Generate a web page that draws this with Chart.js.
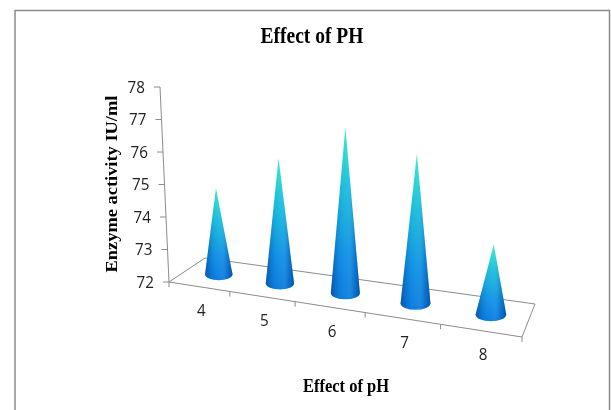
<!DOCTYPE html>
<html>
<head>
<meta charset="utf-8">
<title>Effect of PH</title>
<script src="https://cdn.jsdelivr.net/npm/chart.js@4"></script>
<style>
  html, body { margin: 0; padding: 0; background: #fff; }
  canvas { display: block; }
</style>
</head>
<body>
<canvas id="phChart" width="611" height="410"></canvas>
<script>
'use strict';

const categories = ["4", "5", "6", "7", "8"];
const activity = [74.65, 75.85, 77.1, 76.6, 74.15];
const yMin = 72;
const yMax = 78;
const chartTitle = "Effect of PH";
const xTitle = "Effect of pH";
const yTitle = "Enzyme activity IU/ml";

// corners of the tilted floor: front left, front right, back right, back left
const floorQuad = [[169, 282], [522, 337], [535, 304], [205, 258]];
const wallTop = [160, 87];

// homography from the unit square to the floor
function makeFloor(q) {
  const [x0, y0] = q[0], [x1, y1] = q[1], [x2, y2] = q[2], [x3, y3] = q[3];
  const dx1 = x1 - x2, dx2 = x3 - x2, sx = x0 - x1 + x2 - x3;
  const dy1 = y1 - y2, dy2 = y3 - y2, sy = y0 - y1 + y2 - y3;
  const det = dx1 * dy2 - dx2 * dy1;
  const g = (sx * dy2 - dx2 * sy) / det;
  const h = (dx1 * sy - sx * dy1) / det;
  const a = x1 - x0 + g * x1, b = x3 - x0 + h * x3;
  const d = y1 - y0 + g * y1, e = y3 - y0 + h * y3;
  return (u, v) => {
    const w = g * u + h * v + 1;
    return [(a * u + b * v + x0) / w, (d * u + e * v + y0) / w];
  };
}
const floor = makeFloor(floorQuad);

function line(ctx, x1, y1, x2, y2) {
  ctx.beginPath();
  ctx.moveTo(x1, y1);
  ctx.lineTo(x2, y2);
  ctx.stroke();
}

// the reference text is taller and narrower than the plain font
function stretchedText(ctx, text, x, y, sx, sy, angle) {
  ctx.save();
  ctx.translate(x, y);
  if (angle) ctx.rotate(angle);
  ctx.scale(sx, sy);
  ctx.fillText(text, 0, 0);
  ctx.restore();
}

function drawCone(ctx, cx, baseY, tipX, tipY, r) {
  const ry = r * 0.44;
  ctx.save();
  ctx.beginPath();
  ctx.moveTo(tipX, tipY);
  ctx.lineTo(cx + r, baseY);
  ctx.ellipse(cx, baseY, r, ry, 0, 0, Math.PI);
  ctx.closePath();
  ctx.clip();

  const vert = ctx.createLinearGradient(0, tipY, 0, baseY + ry);
  vert.addColorStop(0, "#35ecc8");
  vert.addColorStop(0.3, "#1cc4dc");
  vert.addColorStop(0.75, "#0f90e6");
  vert.addColorStop(1, "#0b7ce0");
  ctx.fillStyle = vert;
  ctx.fillRect(cx - r - 5, tipY - 2, 2 * r + 10, baseY + ry - tipY + 4);

  const side = ctx.createLinearGradient(cx - r, 0, cx + r, 0);
  side.addColorStop(0, "rgba(6,50,120,0.55)");
  side.addColorStop(0.3, "rgba(10,80,160,0.08)");
  side.addColorStop(0.55, "rgba(255,255,255,0.04)");
  side.addColorStop(0.8, "rgba(8,70,150,0.22)");
  side.addColorStop(1, "rgba(6,50,120,0.6)");
  ctx.fillStyle = side;
  ctx.fillRect(cx - r - 5, tipY - 2, 2 * r + 10, baseY + ry - tipY + 4);
  ctx.restore();
}

const conePlugin = {
  id: "conePlugin",
  beforeDraw(chart) {
    const ctx = chart.ctx;
    ctx.save();
    ctx.fillStyle = "#fff";
    ctx.fillRect(0, 0, chart.width, chart.height);
    // outer frame
    ctx.strokeStyle = "#8a8a8a";
    ctx.lineWidth = 1.5;
    ctx.beginPath();
    ctx.moveTo(15, 410);
    ctx.lineTo(15, 10.5);
    ctx.lineTo(609.5, 10.5);
    ctx.lineTo(609.5, 410);
    ctx.stroke();
    ctx.restore();
  },
  afterDatasetsDraw(chart) {
    const ctx = chart.ctx;
    const xs = chart.scales.x, ys = chart.scales.y;
    const area = chart.chartArea;
    const n = categories.length;
    const [fx] = floorQuad[0];
    const y0 = ys.getPixelForValue(yMin);
    ctx.save();
    ctx.strokeStyle = "#8c8c8c";
    ctx.lineWidth = 1;

    // floor outline
    ctx.beginPath();
    floorQuad.forEach((p, i) => i ? ctx.lineTo(p[0], p[1]) : ctx.moveTo(p[0], p[1]));
    ctx.closePath();
    ctx.stroke();

    // leaning value axis, ticks and labels
    const axisX = v => fx + (wallTop[0] - fx) * (y0 - ys.getPixelForValue(v)) / (area.bottom - area.top);
    line(ctx, fx, y0, wallTop[0], ys.getPixelForValue(yMax));
    ctx.fillStyle = "#222";
    ctx.font = '16px "Open Sans"';
    ctx.textAlign = "right";
    ctx.textBaseline = "middle";
    ys.ticks.forEach(t => {
      const y = ys.getPixelForValue(t.value), x = axisX(t.value);
      line(ctx, x - 6, y, x, y);
      stretchedText(ctx, String(t.value), x - 15, y + 1, 0.95, 1.05);
    });

    // category ticks and labels along the front edge
    ctx.textAlign = "center";
    for (let i = 0; i <= n; i++) {
      const p = floor(i / n, 0);
      line(ctx, p[0], p[1], p[0], p[1] + 5);
    }
    categories.forEach((c, i) => {
      const u = (xs.getPixelForValue(i) - area.left) / (area.right - area.left);
      const p = floor(u, 0);
      stretchedText(ctx, c, p[0] + 2.5, p[1] + 25, 0.95, 1.05);
    });

    // cones stand on the middle of the floor
    chart.getDatasetMeta(0).data.forEach(bar => {
      const u = (bar.x - area.left) / (area.right - area.left);
      const base = floor(u, 0.5);
      const cx = base[0] + 2, cy = base[1] + 0.5;
      const r = 13.5 + u * 2;
      drawCone(ctx, cx, cy, cx + (u - 0.5) * 7, cy - (y0 - bar.y), r);
    });

    // titles
    ctx.fillStyle = "#000";
    ctx.font = 'bold 19.5px "Liberation Serif"';
    stretchedText(ctx, chartTitle, 312, 37, 1, 1.15);
    ctx.font = 'bold 16.5px "Liberation Serif"';
    stretchedText(ctx, xTitle, 346, 387, 1, 1.15);
    ctx.font = 'bold 16px "Liberation Serif"';
    stretchedText(ctx, yTitle, 113, 184, 1.15, 1, -Math.PI / 2);
    ctx.restore();
  }
};

new Chart(document.getElementById("phChart"), {
  type: "bar",
  data: {
    labels: categories,
    datasets: [{
      data: activity,
      backgroundColor: "rgba(0,0,0,0)",
      borderWidth: 0
    }]
  },
  options: {
    responsive: false,
    animation: false,
    layout: { padding: { left: 169, right: 89, top: 87, bottom: 128 } },
    plugins: {
      legend: { display: false },
      tooltip: { enabled: false }
    },
    scales: {
      x: { display: false },
      y: { display: false, min: yMin, max: yMax, ticks: { stepSize: 1 } }
    }
  },
  plugins: [conePlugin]
});
</script>
</body>
</html>
